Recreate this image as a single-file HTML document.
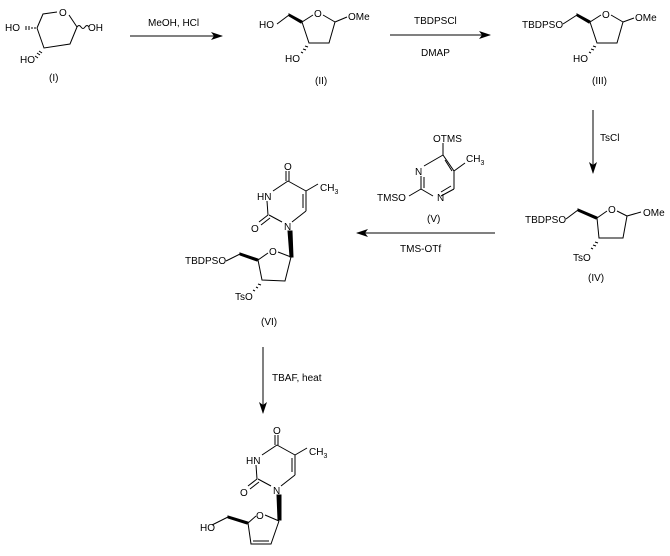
<!DOCTYPE html>
<html><head><meta charset="utf-8"><style>
html,body{margin:0;padding:0;background:#fff}
svg{display:block}
text{font-family:"Liberation Sans",Arial,sans-serif;font-size:10px;fill:#000}
</style></head><body>
<svg width="670" height="556" viewBox="0 0 670 556" xmlns="http://www.w3.org/2000/svg">
<defs>
<marker id="ah" viewBox="0 0 12 8" refX="11" refY="4" markerWidth="12" markerHeight="8" markerUnits="userSpaceOnUse" orient="auto">
<path d="M0,0 L12,4 L0,8 L3,4 Z" fill="#000"/></marker>
</defs>
<g stroke="#000" stroke-width="1" fill="none">
<!-- I -->
<polyline points="37,28 43,14 57,12"/>
<line x1="69" y1="15" x2="77" y2="27"/>
<polyline points="77,27 70,44 44,48 37,28"/>
<path d="M77,27 q2,-3 4,0 q2,3 4,0 q2,-3 4,0" />
<g stroke-width="1"><line x1="26" y1="26" x2="26" y2="30"/><line x1="29" y1="26" x2="29" y2="30"/><line x1="32" y1="27" x2="32" y2="29"/><line x1="35" y1="27" x2="35" y2="29"/></g>
<g><line x1="35" y1="56" x2="38" y2="58"/><line x1="37" y1="53" x2="40" y2="55"/><line x1="39" y1="51" x2="42" y2="53"/></g>
<!-- arrows -->
<line x1="130" y1="36" x2="222" y2="36" marker-end="url(#ah)"/>
<line x1="390" y1="35" x2="490" y2="35" marker-end="url(#ah)"/>
<line x1="593" y1="110" x2="593" y2="173" marker-end="url(#ah)"/>
<line x1="495" y1="233" x2="357" y2="233" marker-end="url(#ah)"/>
<line x1="263" y1="347" x2="263" y2="413" marker-end="url(#ah)"/>
<!-- II -->
<line x1="277" y1="24" x2="289" y2="15"/>
<polygon points="289,14 302,21 301,23 289,16" fill="#000"/>
<line x1="302" y1="22" x2="313" y2="15"/>
<line x1="323" y1="15" x2="335" y2="22"/>
<polyline points="335,22 329,43 309,43 302,22"/>
<line x1="335" y1="22" x2="347" y2="17"/>
<g><line x1="301" y1="52" x2="303" y2="53"/><line x1="303" y1="49" x2="306" y2="50"/><line x1="305" y1="46" x2="308" y2="47"/></g>
<!-- III -->
<line x1="563" y1="24" x2="577" y2="15"/>
<polygon points="577,14 590,21 589,23 577,16" fill="#000"/>
<line x1="590" y1="22" x2="601" y2="15"/>
<line x1="611" y1="15" x2="623" y2="22"/>
<polyline points="623,22 617,43 597,43 590,22"/>
<line x1="623" y1="22" x2="634" y2="18"/>
<g><line x1="589" y1="52" x2="591" y2="53"/><line x1="591" y1="49" x2="594" y2="50"/><line x1="593" y1="46" x2="596" y2="47"/></g>
<!-- IV -->
<line x1="566" y1="219" x2="578" y2="210"/>
<polygon points="578,209 597,217 596,219 578,211" fill="#000"/>
<line x1="597" y1="218" x2="607" y2="211"/>
<line x1="617" y1="211" x2="627" y2="216"/>
<polyline points="627,216 623,238 599,238 597,218"/>
<line x1="627" y1="216" x2="641" y2="212"/>
<g><line x1="591" y1="248" x2="593" y2="249"/><line x1="593" y1="245" x2="596" y2="246"/><line x1="595" y1="242" x2="598" y2="243"/></g>
<!-- V -->
<line x1="443" y1="143" x2="443" y2="155"/>
<line x1="443" y1="155" x2="454" y2="171"/>
<line x1="445" y1="160" x2="452" y2="171"/>
<line x1="454" y1="171" x2="465" y2="163"/>
<line x1="454" y1="171" x2="454" y2="189"/>
<line x1="454" y1="189" x2="441" y2="196"/>
<line x1="451" y1="186" x2="441" y2="192"/>
<line x1="433" y1="196" x2="421" y2="189"/>
<line x1="421" y1="189" x2="421" y2="176"/>
<line x1="424" y1="188" x2="424" y2="177"/>
<line x1="424" y1="166" x2="443" y2="155"/>
<line x1="421" y1="189" x2="409" y2="196"/>
<!-- VI uracil -->
<g id="ura">
<line x1="286" y1="171" x2="286" y2="181"/><line x1="289" y1="171" x2="289" y2="181"/>
<line x1="288" y1="181" x2="273" y2="191"/>
<line x1="288" y1="181" x2="306" y2="191"/>
<line x1="306" y1="191" x2="318" y2="184"/>
<line x1="306" y1="191" x2="306" y2="211"/><line x1="303" y1="194" x2="303" y2="208"/>
<line x1="306" y1="211" x2="292" y2="222"/>
<line x1="282" y1="222" x2="269" y2="215"/>
<line x1="268" y1="215" x2="267" y2="201"/>
<line x1="268" y1="215" x2="259" y2="222"/><line x1="270" y1="218" x2="261" y2="225"/>
</g>
<polygon points="288,231 292,231 293,257 290,257" fill="#000"/>
<line x1="226" y1="261" x2="240" y2="254"/>
<polygon points="240,253 258,259 257,261 240,255" fill="#000"/>
<line x1="258" y1="260" x2="268" y2="253"/>
<line x1="278" y1="252" x2="291" y2="257"/>
<polyline points="291,257 285,281 262,280 258,260"/>
<g><line x1="253" y1="290" x2="255" y2="291"/><line x1="256" y1="287" x2="258" y2="288"/><line x1="258" y1="284" x2="261" y2="285"/></g>
<!-- VII -->
<use href="#ura" transform="translate(-11,264)"/>
<polygon points="277,495 281,495 281,520 278,520" fill="#000"/>
<line x1="212" y1="525" x2="228" y2="517"/>
<polygon points="228,516 248,522 247,524 228,518" fill="#000"/>
<line x1="248" y1="523" x2="256" y2="516"/>
<line x1="265" y1="515" x2="279" y2="521"/>
<polyline points="279,521 271,544 251,544 248,523"/>
<line x1="253" y1="541" x2="269" y2="541"/>
</g>
<g>
<text x="5" y="31">HO</text>
<text x="59" y="16">O</text>
<text x="88" y="31">OH</text>
<text x="20" y="63">HO</text>
<text x="49" y="81">(I)</text>
<text x="148" y="26">MeOH, HCl</text>
<text x="259" y="28">HO</text>
<text x="314" y="17">O</text>
<text x="348" y="20">OMe</text>
<text x="285" y="62">HO</text>
<text x="315" y="84">(II)</text>
<text x="414" y="24">TBDPSCl</text>
<text x="421" y="56">DMAP</text>
<text x="522" y="28">TBDPSO</text>
<text x="602" y="18">O</text>
<text x="635" y="21">OMe</text>
<text x="573" y="62">HO</text>
<text x="592" y="84">(III)</text>
<text x="600" y="141">TsCl</text>
<text x="525" y="223">TBDPSO</text>
<text x="608" y="213">O</text>
<text x="643" y="216">OMe</text>
<text x="573" y="261">TsO</text>
<text x="588" y="281">(IV)</text>
<text x="433" y="142">OTMS</text>
<text x="466" y="162">CH<tspan font-size="7" dy="3">3</tspan></text>
<text x="415" y="175">N</text>
<text x="437" y="201">N</text>
<text x="377" y="201">TMSO</text>
<text x="427" y="222">(V)</text>
<text x="400" y="252">TMS-OTf</text>
<g id="uratxt">
<text x="284" y="170">O</text>
<text x="320" y="191">CH<tspan font-size="7" dy="3">3</tspan></text>
<text x="257" y="200">HN</text>
<text x="251" y="232">O</text>
<text x="284" y="230">N</text>
</g>
<text x="185" y="264">TBDPSO</text>
<text x="269" y="255">O</text>
<text x="235" y="300">TsO</text>
<text x="261" y="325">(VI)</text>
<text x="272" y="381">TBAF, heat</text>
<use href="#uratxt" transform="translate(-11,264)"/>
<text x="200" y="531">HO</text>
<text x="256" y="519">O</text>
</g>
</svg>
</body></html>
